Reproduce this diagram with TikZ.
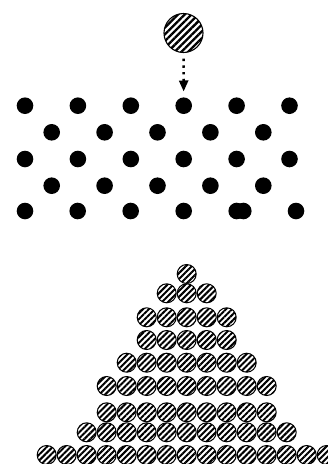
\documentclass[tikz,border=0pt]{standalone}
\usepackage{tikz}
\usetikzlibrary{arrows.meta,patterns.meta}
\definecolor{ink}{HTML}{000000}
\tikzset{
  peg/.style={circle,fill=ink,inner sep=0pt,minimum size=16.6pt},
  ball/.style={circle,draw=ink,line width=1pt,inner sep=0pt,minimum size=19pt,
    preaction={fill=white},pattern={Lines[angle=45,distance=4.2pt,line width=2pt]},
    pattern color=ink},
  bigball/.style={ball,minimum size=39pt,line width=1.1pt,
    pattern={Lines[angle=45,distance=4.8pt,line width=2.3pt]}},
  drop/.style={-{Triangle[length=11pt,width=9pt]},line width=2.4pt,color=ink,
    dash pattern=on 2.4pt off 4.3pt}
}
\begin{document}
\begin{tikzpicture}[x=1pt,y=-1pt]
  \useasboundingbox (0,0) rectangle (328,464);
  % falling ball above the board
  \node[bigball] (drop) at (183.5,33) {};
  % rows of pegs
  \foreach \r/\y in {1/105.7,3/159}{%
    \foreach \k in {0,...,5}{%
      \node[peg] (p\r-\k) at (25+52.9*\k,\y) {};}}
  \foreach \r/\y in {2/132.3,4/185.7}{%
    \foreach \k in {0,...,4}{%
      \node[peg] (p\r-\k) at (51.7+52.9*\k,\y) {};}}
  \foreach \x [count=\k from 0] in {25,77.7,130.7,183.7,236.7,243.3,296}{%
    \node[peg] (p5-\k) at (\x,211) {};}
  % dotted fall onto the middle peg
  \draw[drop,shorten <=5pt,shorten >=5.7pt] (drop) -- (p1-3);
  % heap of collected balls
  \foreach \row/\y/\n in {a/274/0,b/293.3/1,c/317.3/2,d/340/2,e/362.7/3,
      f/386/4,g/412.3/4,h/432.3/5,i/455/7}{%
    \foreach \k in {-\n,...,\n}{%
      \node[ball] (b\row\k) at (186.7+20*\k,\y) {};}}
\end{tikzpicture}
\end{document}
